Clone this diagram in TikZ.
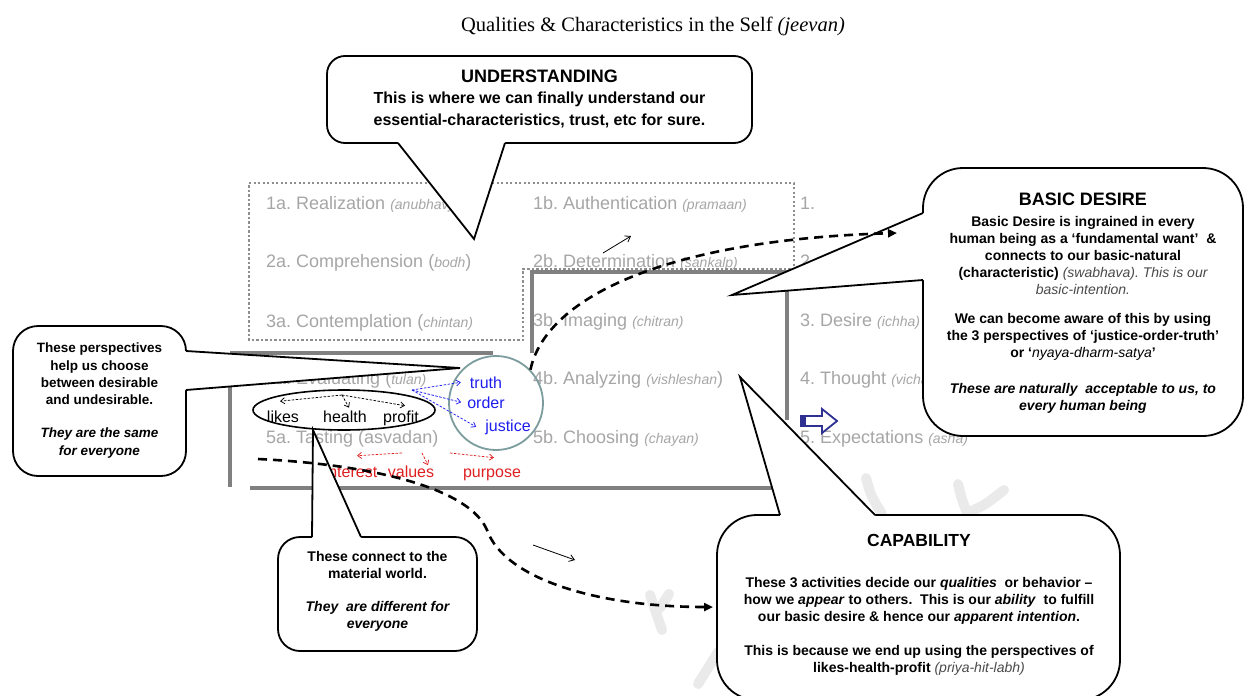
\documentclass[tikz,border=0pt]{standalone}
\usepackage{fontspec}
\setmainfont{Liberation Sans}
\newfontfamily\serifttl{Liberation Serif}
\usetikzlibrary{arrows.meta,shapes.geometric}
\frenchspacing
\definecolor{labelgray}{HTML}{A6A6A6}
\definecolor{framegray}{HTML}{808080}
\definecolor{dotgray}{HTML}{8E8E8E}
\definecolor{ringteal}{HTML}{7C9C9E}
\definecolor{persblue}{HTML}{1E1EF0}
\definecolor{persred}{HTML}{E02020}
\definecolor{arrownavy}{HTML}{2E3192}
\definecolor{softtext}{HTML}{4A4A4A}
\definecolor{markgray}{HTML}{EAEAEA}
% small italic transliteration in the grid labels
\newcommand\tr[1]{{\fontsize{14}{16}\selectfont\itshape #1}}

\begin{document}
\begin{tikzpicture}[x=1pt,y=-1pt,
  lbl/.style={anchor=base west,inner sep=0pt,text=labelgray,font=\fontsize{18}{21}\selectfont},
  gridline/.style={draw=framegray,line width=4pt},
  dotoutline/.style={draw=dotgray,line width=2.2pt,dash pattern=on 2.2pt off 2.3pt},
  bubblebody/.style={draw=black,fill=white,line width=1.8pt,rectangle,inner sep=0pt},
  bubbletail/.style={draw=black,line width=1.8pt,line join=miter},
  ctitle/.style={anchor=base,inner sep=0pt,font=\bfseries\fontsize{18}{21}\selectfont},
  cbody/.style={anchor=north,inner sep=0pt,align=center,font=\bfseries\fontsize{14}{17}\selectfont},
  flowarrow/.style={line width=2.6pt,dash pattern=on 9pt off 6pt,-{Triangle[length=9pt,width=8pt]}},
  smallarrow/.style={line width=0.8pt,-{Straight Barb[length=5pt,width=7pt]}},
  perslabel/.style={anchor=base,inner sep=0pt,font=\fontsize{16}{18}\selectfont},
  persarrow/.style={line width=0.75pt,dash pattern=on 2.5pt off 1.5pt,-{Straight Barb[length=4pt,width=6pt]}},
  markstroke/.style={draw=markgray,line width=10pt,line cap=round},
]
\useasboundingbox (0,0) rectangle (1248,696);
\clip (0,0) rectangle (1248,696);
\fill[white] (0,0) rectangle (1248,696);

% faint background mark
\draw[markstroke] (866,478) .. controls (871,496) .. (882,514);
\draw[markstroke] (958,484) .. controls (962,500) .. (967,513) .. controls (985,505) .. (1004,490);
\draw[markstroke] (650,595) -- (662,630);
\draw[markstroke] (669,594) -- (660,608);
\draw[markstroke] (698,684) -- (718,652);

% title
\node[anchor=base,inner sep=0pt,font=\serifttl\fontsize{20.5}{22}\selectfont] (title) at (653,31)
  {Qualities \& Characteristics in the Self {\itshape(jeevan)}};

% grid of activities
\node[lbl] (l1a) at (266,209.5) {1a. Realization \tr{(anubhav)}};
\node[lbl] (l1b) at (533,209.5) {1b. Authentication \tr{(pramaan)}};
\node[lbl] (l1c) at (800,209.5) {1.};
\node[lbl] (l2a) at (266,267.5) {2a. Comprehension (\tr{bodh})};
\node[lbl] (l2b) at (533,267.5) {2b. Determination \tr{(sankalp)}};
\node[lbl] (l2c) at (800,267.5) {2.};
\node[lbl] (l3a) at (266,327.5) {3a. Contemplation (\tr{chintan)}};
\node[lbl] (l3b) at (533,326.5) {3b. Imaging \tr{(chitran)}};
\node[lbl] (l3c) at (800,326.5) {3. Desire \tr{(ichha)}};
\node[lbl] (l4a) at (266,384.5) {4a. Evaluating (\tr{tulan)}};
\node[lbl] (l4b) at (533,384.5) {4b. Analyzing \tr{(vishleshan})};
\node[lbl] (l4c) at (800,384.5) {4. Thought \tr{(vichar)}};
\node[lbl] (l5a) at (266,443.5) {5a. Tasting (asvadan)};
\node[lbl] (l5b) at (533,443.5) {5b. Choosing \tr{(chayan)}};
\node[lbl] (l5c) at (800,443.5) {5. Expectations \tr{(asha)}};

% frames
\draw[dotoutline] (249,183) -- (794,183) -- (794,269) -- (523,269) -- (523,340) -- (249,340) -- cycle;
\draw[gridline] (230,353) -- (493,353);
\draw[gridline] (230,353) -- (230,487);
\draw[gridline] (250,488) -- (779,488);
\draw[gridline] (532,353) -- (532,272) -- (787,272) -- (787,420);

% perspectives
\node[draw=black,line width=1.6pt,ellipse,minimum width=182pt,minimum height=40pt,inner sep=0pt] (lhp) at (344,410) {};
\node[draw=ringteal,line width=1.8pt,circle,minimum size=94pt,inner sep=0pt] (tojc) at (496,403) {};

\node[perslabel,text=persblue] (truth) at (486,388) {truth};
\node[perslabel,text=persblue] (order) at (486,408) {order};
\node[perslabel,text=persblue] (justice) at (508,431) {justice};
\coordinate (bsrc) at (412,390);
\draw[persarrow,persblue] (bsrc) -- ([xshift=-9pt]truth.west);
\draw[persarrow,persblue] (bsrc) -- ([xshift=-6pt]order.west);
\draw[persarrow,persblue] (bsrc) -- ([xshift=-9pt]justice.west);

\node[perslabel] (likes) at (283,422) {likes};
\node[perslabel] (health) at (345,422) {health};
\node[perslabel] (profit) at (401,422) {profit};
\coordinate (ksrc) at (342,395);
\draw[persarrow] (ksrc) -- ([xshift=-3pt,yshift=9pt]likes.north);
\draw[persarrow] (ksrc) -- ([xshift=4pt,yshift=2.5pt]health.north);
\draw[persarrow] (ksrc) -- ([xshift=4pt,yshift=4.5pt]profit.north);

\node[perslabel,text=persred] (interest) at (351,477) {interest};
\node[perslabel,text=persred] (values) at (411,477) {values};
\node[perslabel,text=persred] (purpose) at (492,477) {purpose};
\coordinate (rsrc1) at (402,453);
\coordinate (rsrc2) at (422,453);
\coordinate (rsrc3) at (450,453);
\draw[persarrow,persred] (rsrc1) -- ([xshift=6pt,yshift=9.5pt]interest.north);
\draw[persarrow,persred] (rsrc2) -- ([xshift=17pt]values.north);
\draw[persarrow,persred] (rsrc3) -- ([xshift=2pt,yshift=10.5pt]purpose.north);

% hollow block arrow
\draw[arrownavy,line width=1.8pt,fill=white,line join=miter] (801,416) -- (822,416) -- (822,409) -- (837,421) -- (822,433) -- (822,426) -- (801,426) -- cycle;
\fill[arrownavy] (800,415) rectangle (806,427);

% small pointers
\coordinate (sa1) at (603,253); \coordinate (sa2) at (631,236);
\draw[smallarrow] (sa1) -- (sa2);
\coordinate (sb1) at (533,545); \coordinate (sb2) at (575,560);
\draw[smallarrow] (sb1) -- (sb2);

% callout: understanding
\node[bubblebody,rounded corners=18pt,minimum width=425pt,minimum height=87pt] (und) at (539.5,99.5) {};
\coordinate (undtip) at (474,239);
\fill[white] (398,143) -- (undtip) -- (505,143) -- (505,139) -- (398,139) -- cycle;
\draw[bubbletail] (398,143) -- (undtip) -- (505,143);

% callout: basic desire
\node[bubblebody,rounded corners=40pt,minimum width=320pt,minimum height=268pt] (bd) at (1083,302) {};
\coordinate (bdtip) at (732,295);
\fill[white] (923,213) -- (bdtip) -- (923,280) -- (927,280) -- (927,213) -- cycle;
\draw[bubbletail] (923,213) -- (bdtip) -- (923,280);

% callout: capability
\node[bubblebody,rounded corners=40pt,minimum width=403pt,minimum height=185pt] (cap) at (918.5,607.5) {};
\coordinate (captip) at (740,377);
\fill[white] (780,515) -- (captip) -- (875,515) -- (875,519) -- (780,519) -- cycle;
\draw[bubbletail] (780,515) -- (captip) -- (875,515);

% callout: universal perspectives
\node[bubblebody,rounded corners=25pt,minimum width=173pt,minimum height=150pt] (pers) at (99.5,401) {};
\coordinate (perstip) at (460,368);
\fill[white] (186,351) -- (perstip) -- (186,390) -- (182,390) -- (182,351) -- cycle;
\draw[bubbletail] (186,351) -- (perstip) -- (186,390);

% callout: material world
\node[bubblebody,rounded corners=22pt,minimum width=199pt,minimum height=114pt] (mat) at (377.5,594) {};
\coordinate (mattip) at (313,430);
\fill[white] (312,537) -- (mattip) -- (361,537) -- (361,541) -- (312,541) -- cycle;
\draw[bubbletail] (312,537) -- (mattip) -- (361,537);

% callout texts
\node[ctitle] (undt) at (539.5,82.5) {UNDERSTANDING};
\node[cbody,font=\bfseries\fontsize{16}{22}\selectfont] (undb) at (539.5,92)
  {This is where we can finally understand our\\essential-characteristics, trust, etc for sure.};

\node[ctitle] (bdt) at (1083,205) {BASIC DESIRE};
\node[cbody] (bdp1) at (1083,216)
  {Basic Desire is ingrained in every\\human being as a ‘fundamental want’~ \&\\connects to our basic-natural\\(characteristic) {\mdseries\itshape\color{softtext}(swabhava). This is our}\\{\mdseries\itshape\color{softtext}basic-intention.}};
\node[cbody] (bdp2) at (1083,313)
  {We can become aware of this by using\\the 3 perspectives of ‘justice-order-truth’\\or ‘{\mdseries\itshape nyaya-dharm-satya}’};
\node[cbody,font=\bfseries\itshape\fontsize{14}{17}\selectfont] (bdp3) at (1083,383)
  {These are naturally~ acceptable to us, to\\every human being};

\node[ctitle,font=\bfseries\fontsize{17.5}{21}\selectfont] (capt) at (919,546.5) {CAPABILITY};
\node[cbody] (capp1) at (919,577)
  {These 3 activities decide our \textit{qualities}~ or behavior –\\how we \textit{appear} to others.~ This is our \textit{ability}~ to fulfill\\our basic desire \& hence our \textit{apparent intention}.};
\node[cbody] (capp2) at (919,645)
  {This is because we end up using the perspectives of\\likes-health-profit {\mdseries\itshape\color{softtext}(priya-hit-labh)}};

\node[cbody,font=\bfseries\fontsize{13.5}{17.3}\selectfont] (persp1) at (99.5,343)
  {These perspectives\\help us choose\\between desirable\\and undesirable.};
\node[cbody,font=\bfseries\itshape\fontsize{13.5}{17.3}\selectfont] (persp2) at (99.5,428)
  {They are the same\\for everyone};

\node[cbody,font=\bfseries\fontsize{14}{16.7}\selectfont] (matp1) at (377.5,551.5)
  {These connect to the\\material world.};
\node[cbody,font=\bfseries\itshape\fontsize{14}{16.7}\selectfont] (matp2) at (377.5,601.5)
  {They~ are different for\\everyone};

% dashed flows
\coordinate (bdend) at (897,233);
\draw[flowarrow] (tojc.44) .. controls (545,300) and (660,240) .. (bdend);
\coordinate (f2start) at (258,459);
\coordinate (capend) at (713,607);
\draw[flowarrow] (f2start) .. controls (380,465) and (470,490) .. (487,530)
  .. controls (505,580) and (600,607) .. (capend);
\end{tikzpicture}
\end{document}
